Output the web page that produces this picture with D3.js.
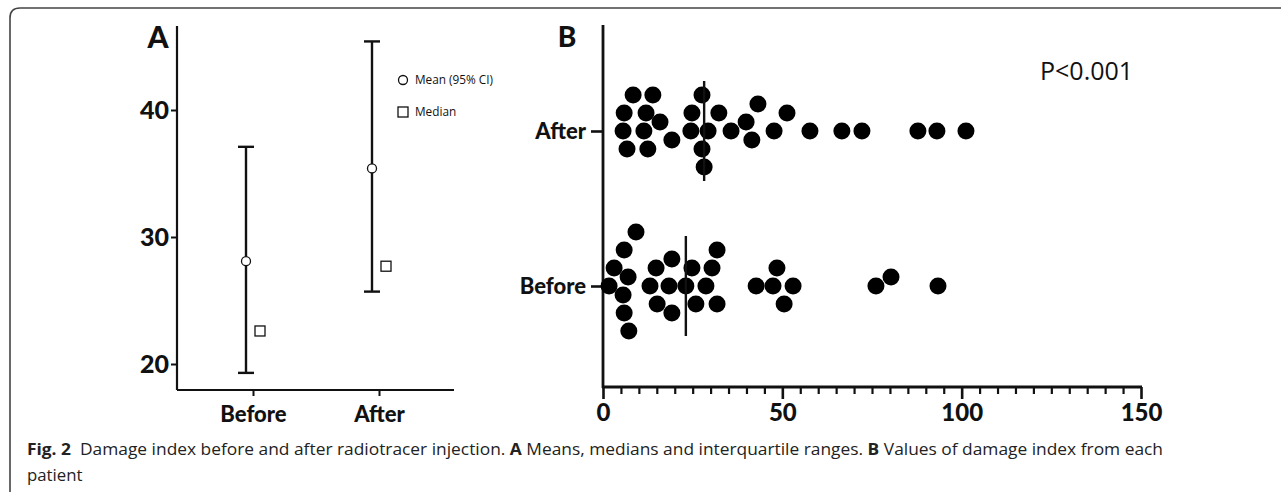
<!DOCTYPE html>
<html>
<head>
<meta charset="utf-8">
<script src="https://cdn.jsdelivr.net/npm/d3@7"></script>
<style>
  body { margin: 0; background: #fff; }
  svg { display: block; }
  .tick text { font-family: Lato, "Open Sans", sans-serif; font-weight: 900; fill: #111; }
</style>
</head>
<body>
<svg id="fig" width="1281" height="492"></svg>
<script>
// Painel A: media (IC 95%) e mediana
const grupos = ['Before', 'After']
const medias = [28.1, 35.4]
const icInferior = [19.3, 25.7]
const icSuperior = [37.1, 45.4]
const medianas = [22.6, 27.7]
const ticksA = [20, 30, 40]

// Painel B: valores de cada paciente
const valoresAfter = [5.6, 13.9, 28.2, 8.4, 12.5, 24.8, 29.3, 41.5, 6.7, 12.0, 19.2, 24.5, 35.7, 43.2,
  47.7, 57.7, 66.6, 72.2, 87.8, 93.1, 101.2, 11.4, 15.9, 27.6, 39.9, 51.3, 5.9, 27.6, 32.3]
const valoresBefore = [7.2, 5.6, 15.1, 19.2, 31.8, 3.1, 7.0, 19.2, 24.8, 30.4, 47.4, 53.0, 42.7, 76.1,
  80.3, 93.4, 5.9, 13.1, 18.4, 23.1, 28.7, 48.5, 1.7, 9.2, 14.8, 25.9, 31.8, 50.5, 5.9]
const ticksB = [0, 50, 100, 150]

const svg = d3.select('#fig')
const cor = '#111'

// moldura da figura
svg.append('path')
  .attr('d', 'M10,492 V18 Q10,8 20,8 H1281')
  .attr('fill', 'none').attr('stroke', '#444').attr('stroke-width', 1.6)

// ---------- Painel A ----------
const yA = d3.scaleLinear().domain([20, 40]).range([364, 110])
const xA = d3.scalePoint().domain(grupos).range([253, 379])

const eixoYA = d3.axisLeft(yA).tickValues(ticksA).tickSize(6).tickPadding(2)
const gYA = svg.append('g').attr('transform', 'translate(177,0)').call(eixoYA)
gYA.select('.domain').remove()
svg.append('line').attr('x1', 177).attr('x2', 177).attr('y1', 26).attr('y2', 390)
  .attr('stroke', cor).attr('stroke-width', 2.2)
gYA.selectAll('.tick line').attr('stroke', cor).attr('stroke-width', 2)
gYA.selectAll('.tick text').style('font-size', '25px')

const eixoXA = d3.axisBottom(xA).tickSize(6).tickPadding(10)
const gXA = svg.append('g').attr('transform', 'translate(0,390)').call(eixoXA)
gXA.select('.domain').remove()
svg.append('line').attr('x1', 177).attr('x2', 454).attr('y1', 390).attr('y2', 390)
  .attr('stroke', cor).attr('stroke-width', 2.2)
gXA.selectAll('.tick line').attr('stroke', cor).attr('stroke-width', 2)
gXA.selectAll('.tick text').style('font-size', '22px')

const dadosA = grupos.map((g, i) => ({ g, m: medias[i], lo: icInferior[i], hi: icSuperior[i], med: medianas[i] }))
const barras = svg.append('g').selectAll('g').data(dadosA).join('g')
  .attr('transform', d => 'translate(' + (xA(d.g) - 7) + ',0)')
barras.append('line').attr('y1', d => yA(d.lo)).attr('y2', d => yA(d.hi))
  .attr('stroke', cor).attr('stroke-width', 2.4)
barras.selectAll('.cap').data(d => [d.lo, d.hi]).join('line').attr('class', 'cap')
  .attr('x1', -8).attr('x2', 8).attr('y1', v => yA(v)).attr('y2', v => yA(v))
  .attr('stroke', cor).attr('stroke-width', 2.4)
barras.append('circle').attr('cy', d => yA(d.m)).attr('r', 4.5)
  .attr('fill', '#fff').attr('stroke', cor).attr('stroke-width', 1.3)
svg.append('g').selectAll('rect').data(dadosA).join('rect')
  .attr('x', d => xA(d.g) + 7 - 5).attr('y', d => yA(d.med) - 5)
  .attr('width', 10).attr('height', 10)
  .attr('fill', '#fff').attr('stroke', cor).attr('stroke-width', 1.3)

// legenda
const leg = svg.append('g').attr('font-family', '"Open Sans", sans-serif').attr('font-size', 11.8).attr('fill', cor)
leg.append('circle').attr('cx', 403).attr('cy', 80).attr('r', 4.5)
  .attr('fill', '#fff').attr('stroke', cor).attr('stroke-width', 1.3)
leg.append('text').attr('x', 415).attr('y', 84).text('Mean (95% CI)')
leg.append('rect').attr('x', 398).attr('y', 107).attr('width', 10).attr('height', 10)
  .attr('fill', '#fff').attr('stroke', cor).attr('stroke-width', 1.3)
leg.append('text').attr('x', 415).attr('y', 116).text('Median')

svg.append('text').attr('x', 158).attr('y', 48).attr('text-anchor', 'middle')
  .attr('font-family', 'Lato, sans-serif').attr('font-weight', 900).attr('font-size', 30)
  .attr('fill', cor).text('A')

// ---------- Painel B ----------
const xB = d3.scaleLinear().domain([0, 150]).range([603, 1141])
const yB = d3.scalePoint().domain(['After', 'Before']).range([131, 286])
const raio = 8.5

const eixoXB = d3.axisBottom(xB).tickValues(ticksB).tickSize(12).tickPadding(5)
const gXB = svg.append('g').attr('transform', 'translate(0,387)').call(eixoXB)
gXB.select('.domain').remove()
gXB.selectAll('.tick line').attr('stroke', cor).attr('stroke-width', 2.6)
gXB.selectAll('.tick text').style('font-size', '24px')
const menores = d3.axisBottom(xB).tickValues(d3.range(5, 150, 5).filter(v => v % 50 !== 0))
  .tickSize(7).tickFormat('')
const gMen = svg.append('g').attr('transform', 'translate(0,387)').call(menores)
gMen.select('.domain').remove()
gMen.selectAll('.tick line').attr('stroke', cor).attr('stroke-width', 2.2)
svg.append('line').attr('x1', 602).attr('x2', 1142).attr('y1', 387).attr('y2', 387)
  .attr('stroke', cor).attr('stroke-width', 2.8)

const eixoYB = d3.axisLeft(yB).tickSize(12).tickPadding(5)
const gYB = svg.append('g').attr('transform', 'translate(603,0)').call(eixoYB)
gYB.select('.domain').remove()
gYB.selectAll('.tick line').attr('stroke', cor).attr('stroke-width', 2.6)
gYB.selectAll('.tick text').style('font-size', '22px')
svg.append('line').attr('x1', 603).attr('x2', 603).attr('y1', 25).attr('y2', 388)
  .attr('stroke', cor).attr('stroke-width', 2.8)

// enxame em degraus: cada ponto sobe/desce ate nao encostar nos ja colocados
const degrau = 9
function enxame(valores) {
  const pts = valores.map(v => ({ v, x: xB(v), dy: 0 })).sort((a, b) => a.v - b.v)
  const postos = []
  pts.forEach(p => {
    for (let k = 0; k < 40; k++) {
      const dy = (k % 2 === 0 ? k / 2 : -(k + 1) / 2) * degrau
      const ok = postos.every(q => (q.x - p.x) ** 2 + (q.dy - dy) ** 2 >= (2 * raio - 0.5) ** 2)
      if (ok) { p.dy = dy; break }
    }
    postos.push(p)
  })
  return pts
}

const series = [{ g: 'After', vals: valoresAfter }, { g: 'Before', vals: valoresBefore }]
series.forEach(s => {
  const pts = enxame(s.vals)
  svg.append('g').selectAll('circle').data(pts).join('circle')
    .attr('cx', d => d.x).attr('cy', d => yB(s.g) + d.dy).attr('r', raio).attr('fill', '#000')
  const med = d3.median(s.vals)
  svg.append('line').attr('x1', xB(med)).attr('x2', xB(med))
    .attr('y1', yB(s.g) - 50).attr('y2', yB(s.g) + 50)
    .attr('stroke', cor).attr('stroke-width', 2.4)
})

svg.append('text').attr('x', 567).attr('y', 47).attr('text-anchor', 'middle')
  .attr('font-family', 'Lato, sans-serif').attr('font-weight', 900).attr('font-size', 28)
  .attr('fill', cor).text('B')
svg.append('text').attr('x', 1040).attr('y', 80)
  .attr('font-family', '"Open Sans", sans-serif').attr('font-size', 25)
  .attr('fill', cor).text('P<0.001')

// ---------- Legenda da figura ----------
const leg2 = svg.append('text').attr('x', 27).attr('y', 455)
  .attr('font-family', '"Open Sans", sans-serif').attr('font-size', 16.8).attr('fill', '#222')
  .attr('textLength', 1136).attr('lengthAdjust', 'spacingAndGlyphs')
const partes = [
  ['Fig. 2', true], ['\u00a0 Damage index before and after radiotracer injection. ', false],
  ['A', true], [' Means, medians and interquartile ranges. ', false],
  ['B', true], [' Values of damage index from each', false]
]
partes.forEach(p => leg2.append('tspan').attr('font-weight', p[1] ? 'bold' : 'normal').text(p[0]))
svg.append('text').attr('x', 27).attr('y', 481)
  .attr('font-family', '"Open Sans", sans-serif').attr('font-size', 16.8).attr('fill', '#222')
  .text('patient')
</script>
</body>
</html>
